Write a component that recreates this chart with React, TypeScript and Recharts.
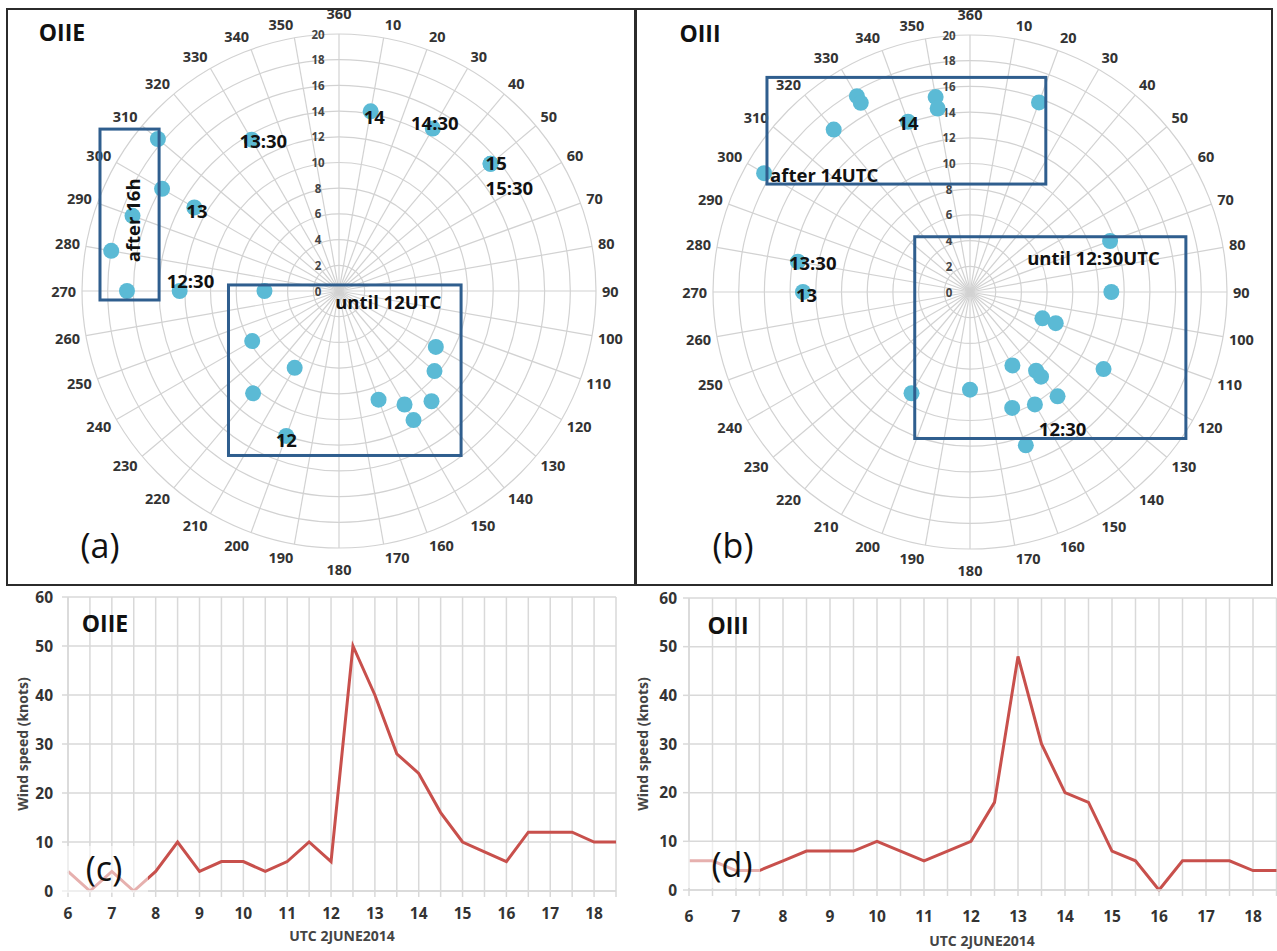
import React from "react";
import {
  RadarChart,
  PolarGrid,
  PolarAngleAxis,
  PolarRadiusAxis,
  Radar,
  LineChart,
  Line,
  XAxis,
  YAxis,
  CartesianGrid,
} from "recharts";

const directionTicks = [
  10, 20, 30, 40, 50, 60, 70, 80, 90, 100, 110, 120, 130, 140, 150, 160, 170, 180,
  190, 200, 210, 220, 230, 240, 250, 260, 270, 280, 290, 300, 310, 320, 330, 340, 350, 360,
];
const speedTicks = [0, 2, 4, 6, 8, 10, 12, 14, 16, 18, 20];

// (a) OIIE wind direction (deg) / speed (knots)
const oiieDirection = [10, 30, 50, 50, 330, 300, 270, 310, 300, 290, 280, 270, 270, 240, 210, 220, 200, 120, 130, 140, 160, 150, 150];
const oiieSpeedPolar = [14.2, 14.6, 15.4, 15.4, 13.6, 13.0, 12.4, 18.4, 15.9, 17.1, 18.0, 16.5, 5.8, 7.8, 6.9, 10.4, 12.0, 8.7, 9.7, 11.2, 9.0, 10.2, 11.6];
const oiieTimeTags = ["14", "14:30", "15", "15:30", "13:30", "13", "12:30", "", "", "", "", "", "", "", "", "", "12", "", "", "", "", "", ""];

// (b) OIII wind direction (deg) / speed (knots)
const oiiiDirection = [20, 350, 350, 340, 330, 330, 320, 300, 280, 270, 70, 90, 110, 110, 120, 150, 140, 140, 140, 150, 160, 180, 210, 160];
const oiiiSpeedPolar = [15.7, 15.4, 14.5, 14.1, 17.6, 17.0, 16.5, 18.5, 13.6, 13.0, 11.6, 11.0, 6.0, 7.1, 12.0, 6.6, 8.0, 8.6, 10.6, 10.1, 9.6, 7.6, 9.1, 12.7];
const oiiiTimeTags = ["", "", "", "14", "", "", "", "after 14UTC", "13:30", "13", "", "", "", "", "", "", "", "", "", "", "", "", "", "12:30"];

// (c), (d) wind speed time series, UTC 2 June 2014
const utcHours = [6, 6.5, 7, 7.5, 8, 8.5, 9, 9.5, 10, 10.5, 11, 11.5, 12, 12.5, 13, 13.5, 14, 14.5, 15, 15.5, 16, 16.5, 17, 17.5, 18, 18.5];
const oiieWind = [4, 0, 4, 0, 4, 10, 4, 6, 6, 4, 6, 10, 6, 50, 40, 28, 24, 16, 10, 8, 6, 12, 12, 12, 10, 10];
const oiiiWind = [6, 6, 4, 4, 6, 8, 8, 8, 10, 8, 6, 8, 10, 18, 48, 30, 20, 18, 8, 6, 0, 6, 6, 6, 4, 4];
const windTicks = [0, 10, 20, 30, 40, 50, 60];

const FONT = "'Open Sans', Lato, sans-serif";
const R = 257;
const U = R / 20;
const DOT = "#5bbad5";
const BOX = "#2f5e8e";
const PGRID = "#d2d2d2";
const LGRID = "#d9d9d9";
const LINE = "#c8504c";

// page position of the polar centres
const A_CX = 339;
const A_CY = 291;
const B_CX = 970;
const B_CY = 292;

type TagStyle = Record<string, [number, number, "start" | "middle" | "end"]>;

const oiieTagStyle: TagStyle = {
  "14": [-7, 5, "start"],
  "14:30": [2, -6, "middle"],
  "15": [-5, -1, "start"],
  "15:30": [-5, 24, "start"],
  "13:30": [-12, 1, "start"],
  "13": [-8, 3, "start"],
  "12:30": [-13, -11, "start"],
  "12": [0, 4, "middle"],
};
const oiiiTagStyle: TagStyle = {
  "14": [0, 1, "middle"],
  "after 14UTC": [6, 1, "start"],
  "13:30": [-9, 1, "start"],
  "13": [-7, 2, "start"],
  "12:30": [13, -17, "start"],
};

function PolarPanel(props: {
  left: number;
  top: number;
  width: number;
  height: number;
  pageCx: number;
  pageCy: number;
  dirs: number[];
  speeds: number[];
  tags: string[];
  tagStyle: TagStyle;
}) {
  const { left, top, width, height, pageCx, pageCy, dirs, speeds, tags, tagStyle } = props;
  const cx = pageCx - left;
  const cy = pageCy - top;
  const data = dirs.map((d, i) => ({ dir: d, spd: speeds[i], tag: tags[i] }));

  // Excel-like placement: the label box touches a point just outside the rim
  const angleTick = (p: any) => {
    const th = Math.atan2(p.x - cx, -(p.y - cy));
    const s = Math.sin(th);
    const c = Math.cos(th);
    const px = cx + (R + 6) * s;
    const py = cy - (R + 6) * c;
    const onAxis = Math.abs(s) < 0.02;
    const anchor = onAxis ? "middle" : s > 0 ? "start" : "end";
    const ty = py - c * 8 - (onAxis ? c * 7 : 0);
    const v = p.payload.value === 0 ? 360 : p.payload.value;
    return (
      <text x={px} y={ty} textAnchor={anchor} dominantBaseline="central" fontSize={14.5} fontWeight={700} fill="#333" fontFamily={FONT}>
        {v}
      </text>
    );
  };

  const radiusTick = (p: any) => (
    <text x={p.x - 21} y={p.y} textAnchor="middle" dominantBaseline="central" fontSize={11.5} fontWeight={700} fill="#444" fontFamily={FONT}>
      {p.payload.value}
    </text>
  );

  const dotShape = (p: any) => <circle key={p.key} cx={p.cx} cy={p.cy} r={8} fill={DOT} />;

  const tagShape = (p: any) => {
    const entry = p.payload?.payload ?? p.payload;
    const tag = entry?.tag;
    if (!tag) return <g key={p.key} />;
    const s = tagStyle[tag] ?? [0, 0, "middle"];
    return (
      <text key={p.key} x={p.cx + s[0]} y={p.cy + s[1]} textAnchor={s[2]} dominantBaseline="central" fontSize={18.5} fontWeight={700} fill="#111" fontFamily={FONT}>
        {tag}
      </text>
    );
  };

  return (
    <div style={{ position: "absolute", left, top }}>
      <RadarChart width={width} height={height} data={data} cx={cx} cy={cy} outerRadius={R} margin={{ top: 0, right: 0, bottom: 0, left: 0 }}>
        <PolarGrid gridType="circle" stroke={PGRID} strokeWidth={1.2} />
        <PolarAngleAxis
          dataKey="dir"
          type="number"
          domain={[0, 360]}
          ticks={directionTicks as any}
          tickCount={37}
          tick={angleTick}
          tickLine={false}
          axisLine={false}
        />
        <PolarRadiusAxis angle={90} type="number" domain={[0, 20]} ticks={speedTicks as any} tickCount={11} tick={radiusTick} axisLine={false} />
        <Radar dataKey="spd" stroke="none" fill="none" fillOpacity={0} dot={dotShape} isAnimationActive={false} />
        <Radar dataKey="spd" stroke="none" fill="none" fillOpacity={0} dot={tagShape} isAnimationActive={false} />
      </RadarChart>
    </div>
  );
}

function WindPanel(props: {
  left: number;
  top: number;
  width: number;
  height: number;
  margin: { top: number; right: number; bottom: number; left: number };
  yAxisWidth: number;
  yTickMargin: number;
  xAxisHeight: number;
  xTickMargin: number;
  values: number[];
}) {
  const { left, top, width, height, margin, yAxisWidth, yTickMargin, xAxisHeight, xTickMargin, values } = props;
  const data = utcHours.map((t, i) => ({ t, v: values[i] }));
  const tickStyle = { fontSize: 15.5, fontWeight: 700, fill: "#333", fontFamily: FONT };
  return (
    <div style={{ position: "absolute", left, top }}>
      <LineChart width={width} height={height} data={data} margin={margin}>
        <CartesianGrid stroke={LGRID} strokeWidth={1.5} />
        <XAxis
          dataKey="t"
          type="number"
          domain={[6, 18.5]}
          ticks={utcHours}
          interval={0}
          height={xAxisHeight}
          tickFormatter={(v: number) => (Number.isInteger(v) ? String(v) : "")}
          tick={tickStyle}
          tickSize={6}
          tickMargin={xTickMargin}
          tickLine={{ stroke: LGRID, strokeWidth: 1.5 }}
          axisLine={{ stroke: LGRID, strokeWidth: 1.5 }}
        />
        <YAxis
          domain={[0, 60]}
          ticks={windTicks}
          width={yAxisWidth}
          tick={tickStyle}
          tickSize={6}
          tickMargin={yTickMargin}
          tickLine={{ stroke: LGRID, strokeWidth: 1.5 }}
          axisLine={{ stroke: LGRID, strokeWidth: 1.5 }}
        />
        <Line type="linear" dataKey="v" stroke={LINE} strokeWidth={3} dot={false} isAnimationActive={false} />
      </LineChart>
    </div>
  );
}

function boxRect(cx: number, cy: number, x1: number, x2: number, y1: number, y2: number, key: string) {
  return (
    <rect
      key={key}
      x={cx + x1 * U}
      y={cy - y1 * U}
      width={(x2 - x1) * U}
      height={(y1 - y2) * U}
      fill="none"
      stroke={BOX}
      strokeWidth={3}
    />
  );
}

export default function App() {
  const noteStyle = { fontSize: 18.5, fontWeight: 700, fill: "#111", fontFamily: FONT } as const;
  const yTitle = { fontSize: 14, fontWeight: 700, fill: "#444", fontFamily: FONT } as const;
  const xTitle = { fontSize: 14, fontWeight: 700, fill: "#444", fontFamily: FONT } as const;
  const panelTitle = { fontSize: 23, fontWeight: 700, fill: "#111", fontFamily: FONT } as const;
  const letter = { fontSize: 34, fill: "#111", fontFamily: FONT } as const;

  const afterX = A_CX - 16.1 * U;
  const afterY = A_CY - 5.5 * U;

  return (
    <div style={{ position: "absolute", left: 0, top: 0, width: 1277, height: 951, background: "#fff", overflow: "hidden" }}>
      <PolarPanel left={8} top={0} width={626} height={584} pageCx={A_CX} pageCy={A_CY} dirs={oiieDirection} speeds={oiieSpeedPolar} tags={oiieTimeTags} tagStyle={oiieTagStyle} />
      <PolarPanel left={638} top={0} width={632} height={584} pageCx={B_CX} pageCy={B_CY} dirs={oiiiDirection} speeds={oiiiSpeedPolar} tags={oiiiTimeTags} tagStyle={oiiiTagStyle} />

      <WindPanel left={0} top={585} width={636} height={366} margin={{ top: 12, right: 20, left: 18, bottom: 0 }} yAxisWidth={50} yTickMargin={9} xAxisHeight={60} xTickMargin={11} values={oiieWind} />
      <WindPanel left={636} top={585} width={641} height={366} margin={{ top: 13, right: 0.5, left: 13, bottom: 0 }} yAxisWidth={40} yTickMargin={6} xAxisHeight={61} xTickMargin={15} values={oiiiWind} />

      <svg width={1277} height={951} style={{ position: "absolute", left: 0, top: 0, pointerEvents: "none" }}>
        {/* panel frames */}
        <rect x={7} y={9} width={628} height={576} fill="none" stroke="#2b2b2b" strokeWidth={2} />
        <rect x={636} y={9} width={636} height={576} fill="none" stroke="#2b2b2b" strokeWidth={2} />

        {/* annotation boxes */}
        {boxRect(A_CX, A_CY, -18.6, -14.0, 12.6, -0.7, "a1")}
        {boxRect(A_CX, A_CY, -8.6, 9.5, 0.47, -12.8, "a2")}
        {boxRect(B_CX, B_CY, -15.8, 5.9, 16.7, 8.4, "b1")}
        {boxRect(B_CX, B_CY, -4.3, 16.8, 4.3, -11.4, "b2")}

        <text x={afterX} y={afterY} transform={`rotate(-90 ${afterX} ${afterY})`} textAnchor="middle" dominantBaseline="central" {...noteStyle}>
          after 16h
        </text>
        <text x={A_CX - 0.3 * U} y={A_CY + 0.85 * U} dominantBaseline="central" {...noteStyle}>
          until 12UTC
        </text>
        <text x={B_CX + 4.45 * U} y={B_CY - 2.65 * U} dominantBaseline="central" {...noteStyle}>
          until 12:30UTC
        </text>

        {/* panel titles */}
        <text x={62} y={32} textAnchor="middle" dominantBaseline="central" {...panelTitle}>OIIE</text>
        <text x={700} y={33} textAnchor="middle" dominantBaseline="central" {...panelTitle}>OIII</text>
        <text x={105} y={623} textAnchor="middle" dominantBaseline="central" {...panelTitle}>OIIE</text>
        <text x={728} y={625} textAnchor="middle" dominantBaseline="central" {...panelTitle}>OIII</text>

        <text x={100} y={545} textAnchor="middle" dominantBaseline="central" {...letter}>(a)</text>
        <text x={733} y={545} textAnchor="middle" dominantBaseline="central" {...letter}>(b)</text>

        {/* translucent label patches over the start of the lines */}
        <rect x={62} y={846} width={86} height={47} fill="#fff" fillOpacity={0.55} />
        <text x={104} y={868} textAnchor="middle" dominantBaseline="central" {...letter}>(c)</text>
        <rect x={684} y={842} width={76} height={46} fill="#fff" fillOpacity={0.55} />
        <text x={732} y={864} textAnchor="middle" dominantBaseline="central" {...letter}>(d)</text>

        {/* line chart axis titles */}
        <text x={22} y={744} transform="rotate(-90 22 744)" textAnchor="middle" dominantBaseline="central" {...yTitle}>
          Wind speed (knots)
        </text>
        <text x={642} y={744} transform="rotate(-90 642 744)" textAnchor="middle" dominantBaseline="central" {...yTitle}>
          Wind speed (knots)
        </text>
        <text x={342} y={935} textAnchor="middle" dominantBaseline="central" {...xTitle}>UTC 2JUNE2014</text>
        <text x={982} y={940} textAnchor="middle" dominantBaseline="central" {...xTitle}>UTC 2JUNE2014</text>
      </svg>
    </div>
  );
}
